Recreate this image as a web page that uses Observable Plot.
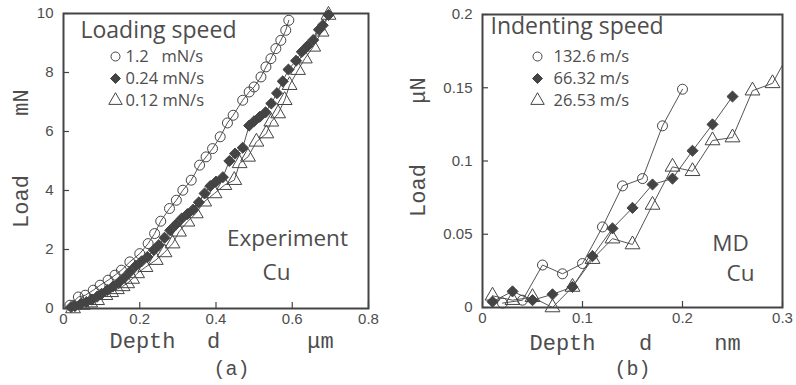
<!DOCTYPE html>
<html><head><meta charset="utf-8">
<script src="https://cdn.jsdelivr.net/npm/d3@7"></script>
<script src="https://cdn.jsdelivr.net/npm/@observablehq/plot@0.6"></script>
<style>
body{margin:0;background:#fff;}
#wrap{position:relative;width:796px;height:385px;overflow:hidden;}
#a{position:absolute;left:0;top:0;}
#b{position:absolute;left:398px;top:0;}
</style></head><body><div id="wrap"><div id="a"></div><div id="b"></div></div>
<script>
// ---------- Panel (a): Experiment, Cu ----------
const xTicksA = [0, 0.2, 0.4, 0.6, 0.8];
const yTicksA = [0, 2, 4, 6, 8, 10];
const legendA = ["1.2\u00a0\u00a0\u00a0mN/s", "0.24 mN/s", "0.12 mN/s"];
const circA = [[0.017,0.11],[0.039,0.39],[0.057,0.45],[0.078,0.62],[0.096,0.79],[0.117,0.96],[0.135,1.13],[0.152,1.30],[0.174,1.58],[0.2,1.86],[0.222,2.2],[0.239,2.54],[0.255,2.96],[0.278,3.39],[0.296,3.67],[0.313,4.01],[0.335,4.35],[0.357,4.86],[0.374,5.14],[0.391,5.42],[0.411,5.82],[0.430,6.29],[0.445,6.55],[0.47,7.06],[0.487,7.34],[0.5,7.51],[0.518,7.85],[0.531,8.19],[0.544,8.47],[0.557,8.81],[0.57,9.09],[0.583,9.43],[0.591,9.77]];
const diamA = [[0.02,0.05],[0.03,0.08],[0.045,0.15],[0.06,0.22],[0.075,0.3],[0.088,0.4],[0.1,0.5],[0.115,0.62],[0.13,0.75],[0.145,0.88],[0.16,1.05],[0.175,1.25],[0.19,1.45],[0.205,1.6],[0.22,1.75],[0.237,1.98],[0.25,2.15],[0.265,2.4],[0.28,2.65],[0.295,2.85],[0.31,3.05],[0.325,3.2],[0.34,3.35],[0.355,3.6],[0.37,3.9],[0.385,4.15],[0.4,4.3],[0.418,4.45],[0.435,5.0],[0.45,5.25],[0.47,5.45],[0.487,6.2],[0.5,6.35],[0.515,6.5],[0.53,6.65],[0.545,6.95],[0.56,7.3],[0.575,7.7],[0.59,8.1],[0.61,8.4],[0.625,8.7],[0.64,8.9],[0.655,9.1],[0.67,9.45],[0.68,9.6],[0.695,9.95]];
const triA = [[0.025,0.0],[0.05,0.12],[0.07,0.2],[0.088,0.28],[0.11,0.45],[0.125,0.55],[0.14,0.65],[0.155,0.75],[0.167,0.85],[0.18,1.0],[0.193,1.19],[0.215,1.4],[0.242,1.64],[0.265,1.9],[0.286,2.2],[0.303,2.6],[0.325,2.94],[0.347,3.22],[0.369,3.62],[0.396,3.9],[0.422,4.18],[0.448,4.35],[0.462,4.92],[0.484,5.14],[0.506,5.65],[0.532,5.93],[0.545,6.33],[0.563,6.61],[0.58,7.06],[0.593,7.57],[0.615,8.08],[0.633,8.47],[0.655,8.87],[0.677,9.38],[0.695,9.95]];

// ---------- Panel (b): MD, Cu ----------
const xTicksB = [0, 0.1, 0.2, 0.3];
const yTicksB = [0, 0.05, 0.1, 0.15, 0.2];
const legendB = ["132.6 m/s", "66.32 m/s", "26.53 m/s"];
const circB = [[0.02,0.003],[0.04,0.005],[0.06,0.029],[0.08,0.023],[0.10,0.030],[0.12,0.055],[0.14,0.083],[0.16,0.088],[0.18,0.124],[0.20,0.149]];
const diamB = [[0.01,0.004],[0.03,0.011],[0.05,0.005],[0.07,0.009],[0.09,0.014],[0.11,0.035],[0.13,0.054],[0.15,0.068],[0.17,0.084],[0.19,0.088],[0.21,0.107],[0.23,0.125],[0.25,0.144]];
const triB = [[0.01,0.008],[0.03,0.005],[0.05,0.007],[0.07,0.0],[0.09,0.014],[0.11,0.033],[0.13,0.047],[0.15,0.043],[0.17,0.070],[0.19,0.096],[0.21,0.093],[0.23,0.114],[0.25,0.116],[0.27,0.148],[0.29,0.153],[0.31,0.178]];

const ink = "#444";
const txt = "#4d4d4d";
const mono = "'Liberation Mono', 'DejaVu Sans Mono', monospace";
const sans = "'Open Sans', 'Noto Sans', sans-serif";
const tickFont = "'Liberation Sans', Arial, sans-serif";
const fmt = d3.format("~g");

function T(str, anchor, dx, dy, o = {}) {
  return Plot.text([str], {frameAnchor: anchor, dx, dy, text: d => d, fill: txt, textAnchor: "middle", ...o});
}

function panel(cfg) {
  const W = 398, H = 385;
  const fw = W - cfg.ml - cfg.mr, fh = H - cfg.mt - cfg.mb;
  const syms = [
    {data: cfg.circ, symbol: "circle", fill: "none"},
    {data: cfg.diam, symbol: "diamond2", fill: ink},
    {data: cfg.tri, symbol: "triangle", fill: "none"}
  ];
  const legendMarks = [];
  cfg.legend.forEach((lab, i) => {
    const s = syms[i];
    legendMarks.push(Plot.dot([lab], {frameAnchor: "top-left", dx: cfg.lgx, dy: cfg.lgy[i], symbol: s.symbol, r: s.symbol === "triangle" ? 5 : 4.5, stroke: ink, fill: s.fill, strokeWidth: 1}));
    legendMarks.push(T(lab, "top-left", cfg.lgtx, cfg.lgy[i], {textAnchor: "start", lineAnchor: "middle", fontSize: 16.5, fontFamily: sans}));
  });
  return Plot.plot({
    width: W, height: H,
    marginLeft: cfg.ml, marginRight: cfg.mr, marginTop: cfg.mt, marginBottom: cfg.mb,
    style: {background: "transparent", color: txt, fontFamily: tickFont},
    x: {domain: cfg.xd},
    y: {domain: cfg.yd},
    marks: [
      Plot.axisX({ticks: cfg.xt, tickSize: 0, tickPadding: 5, tickFormat: fmt, fontSize: 15, label: null, fill: txt}),
      Plot.axisY({ticks: cfg.yt, tickSize: 0, tickPadding: 10, tickFormat: fmt, fontSize: 15, label: null, fill: txt}),
      Plot.tickX(cfg.xt, {x: d => d, insetTop: fh - 6, stroke: ink, strokeWidth: 1.2}),
      Plot.tickY(cfg.yt, {y: d => d, insetRight: fw - 6, stroke: ink, strokeWidth: 1.2}),
      Plot.line(cfg.circ, {x: "0", y: "1", stroke: "#555", strokeWidth: 1, clip: true}),
      Plot.line(cfg.diam, {x: "0", y: "1", stroke: "#555", strokeWidth: 1, clip: true}),
      Plot.line(cfg.tri, {x: "0", y: "1", stroke: "#555", strokeWidth: 1, clip: true}),
      ...syms.map(s => Plot.dot(s.data, {x: "0", y: "1", filter: d => d[0] <= cfg.xd[1], symbol: s.symbol, r: s.symbol === "triangle" ? 5.5 : 5, stroke: ink, fill: s.fill, strokeWidth: 1})),
      Plot.frame({stroke: ink, strokeWidth: 2}),
      T(cfg.title, "top-left", cfg.tx, cfg.ty, {textAnchor: "start", lineAnchor: "middle", fontSize: 23, fontFamily: sans}),
      ...legendMarks,
      T(cfg.ann1, "top-left", cfg.a1x, cfg.a1y, {lineAnchor: "middle", fontSize: 22.5, fontFamily: sans}),
      T(cfg.ann2, "top-left", cfg.a2x, cfg.a2y, {lineAnchor: "middle", fontSize: 22.5, fontFamily: sans}),
      T("Depth", "bottom-left", cfg.xlx[0], cfg.xly, {lineAnchor: "middle", fontSize: 22, fontFamily: mono}),
      T("d", "bottom-left", cfg.xlx[1], cfg.xly, {lineAnchor: "middle", fontSize: 22, fontFamily: mono}),
      T(cfg.unitX, "bottom-left", cfg.xlx[2], cfg.xly, {lineAnchor: "middle", fontSize: 22, fontFamily: mono}),
      T(cfg.tag, "bottom-left", cfg.tagx, cfg.tagy, {lineAnchor: "middle", fontSize: 20, fontFamily: mono}),
      T("Load", "left", cfg.ylx, cfg.yly[0], {rotate: -90, lineAnchor: "middle", fontSize: 22, fontFamily: mono}),
      T(cfg.unitY, "left", cfg.ylx, cfg.yly[1], {rotate: -90, lineAnchor: "middle", fontSize: 22, fontFamily: mono})
    ]
  });
}

document.getElementById("a").append(panel({
  ml: 63, mr: 30, mt: 13, mb: 77,
  xd: [0, 0.8], yd: [0, 10], xt: xTicksA, yt: yTicksA,
  circ: circA, diam: diamA, tri: triA,
  legend: legendA, lgx: 52, lgtx: 62, lgy: [43, 65, 87],
  title: "Loading speed", tx: 17, ty: 17,
  ann1: "Experiment", a1x: 224, a1y: 225, ann2: "Cu", a2x: 213, a2y: 259,
  xlx: [79, 150, 257], xly: 32, unitX: "μm", tag: "(a)", tagx: 168, tagy: 60,
  ylx: -43, yly: [40.5, -58.5], unitY: "mN"
}));

document.getElementById("b").append(panel({
  ml: 84, mr: 14, mt: 14, mb: 78,
  xd: [0, 0.3], yd: [0, 0.2], xt: xTicksB, yt: yTicksB,
  circ: circB, diam: diamB, tri: triB,
  legend: legendB, lgx: 55, lgtx: 71, lgy: [42, 64, 86],
  title: "Indenting speed", tx: 8, ty: 12,
  ann1: "MD", a1x: 248, a1y: 229, ann2: "Cu", a2x: 258, a2y: 259,
  xlx: [80, 163, 245], xly: 35, unitX: "nm", tag: "(b)", tagx: 150, tagy: 61,
  ylx: -65, yly: [29.5, -70.5], unitY: "μN"
}));
</script>
</body></html>
